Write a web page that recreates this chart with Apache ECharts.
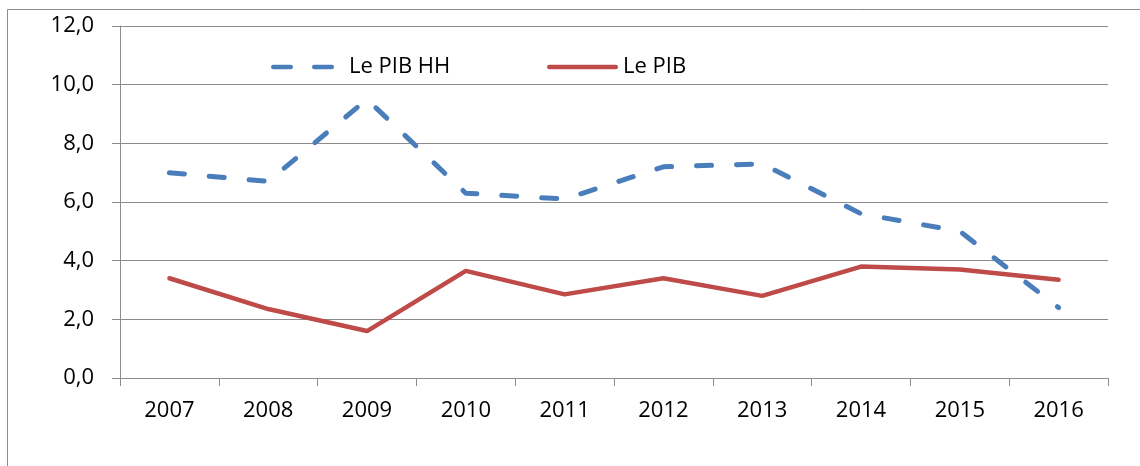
<!DOCTYPE html>
<html>
<head>
<meta charset="utf-8">
<script src="https://cdn.jsdelivr.net/npm/echarts@6/dist/echarts.min.js"></script>
<style>
html,body{margin:0;padding:0;background:#fff;}
#chart{width:1140px;height:466px;}
</style>
</head>
<body>
<div id="chart"></div>
<script>
const years = ['2007','2008','2009','2010','2011','2012','2013','2014','2015','2016'];
const pibHH = [7.0, 6.7, 9.5, 6.3, 6.1, 7.2, 7.3, 5.6, 5.0, 2.4];
const pib = [3.4, 2.35, 1.6, 3.65, 2.85, 3.4, 2.8, 3.8, 3.7, 3.35];
const seriesNames = ['Le PIB HH', 'Le PIB'];

const FONT = '"Open Sans", sans-serif';
const GRAY = '#8c8c8c';
const BLUE = '#4a7ebb';
const RED = '#be4b48';
const dashIcon = 'path://M2.25,0h17.5a2.25,2.25 0 0 1 0,4.5h-17.5a2.25,2.25 0 0 1 0,-4.5zM43.25,0h17.5a2.25,2.25 0 0 1 0,4.5h-17.5a2.25,2.25 0 0 1 0,-4.5z';
const solidIcon = 'path://M2.25,0h66.5a2.25,2.25 0 0 1 0,4.5h-66.5a2.25,2.25 0 0 1 0,-4.5z';

const chart = echarts.init(document.getElementById('chart'), null, {renderer: 'canvas'});
chart.setOption({
  animation: false,
  backgroundColor: '#fff',
  graphic: [{
    type: 'rect',
    shape: {x: 7.5, y: 9.5, width: 1200, height: 600},
    style: {fill: 'none', stroke: GRAY, lineWidth: 1},
    silent: true
  }],
  legend: [{
    data: [{name: seriesNames[0], icon: dashIcon, itemStyle: {color: BLUE}}],
    left: 271, top: 56, padding: 0,
    itemWidth: 63, itemHeight: 4.5,
    textStyle: {fontFamily: FONT, fontSize: 22, lineHeight: 22, color: '#000', padding: [0, 0, 0, 10]}
  }, {
    data: [{name: seriesNames[1], icon: solidIcon, itemStyle: {color: RED}}],
    left: 547, top: 56, padding: 0,
    itemWidth: 71, itemHeight: 4.5,
    textStyle: {fontFamily: FONT, fontSize: 22, lineHeight: 22, color: '#000'}
  }],
  grid: {left: 120, right: 32, top: 26, bottom: 88, containLabel: false},
  xAxis: {
    type: 'category',
    data: years,
    boundaryGap: true,
    axisLine: {lineStyle: {color: GRAY, width: 1}},
    axisTick: {show: true, length: 8, lineStyle: {color: GRAY}},
    axisLabel: {fontFamily: FONT, fontSize: 22, color: '#000', margin: 22},
    splitLine: {show: false}
  },
  yAxis: {
    type: 'value',
    min: 0, max: 12, interval: 2,
    axisLine: {show: true, lineStyle: {color: GRAY, width: 1}},
    axisTick: {show: true, length: 8, lineStyle: {color: GRAY}},
    axisLabel: {
      fontFamily: FONT, fontSize: 22, color: '#000', margin: 26,
      formatter: v => v.toFixed(1).replace('.', ',')
    },
    splitLine: {show: true, lineStyle: {color: GRAY, width: 1}}
  },
  series: [{
    name: seriesNames[0],
    type: 'line',
    data: pibHH,
    symbol: 'none',
    lineStyle: {color: BLUE, width: 5, type: [15, 25], cap: 'round', join: 'round'},
    itemStyle: {color: BLUE}
  }, {
    name: seriesNames[1],
    type: 'line',
    data: pib,
    symbol: 'none',
    lineStyle: {color: RED, width: 4.5, cap: 'round', join: 'round'},
    itemStyle: {color: RED}
  }]
});
</script>
</body>
</html>
